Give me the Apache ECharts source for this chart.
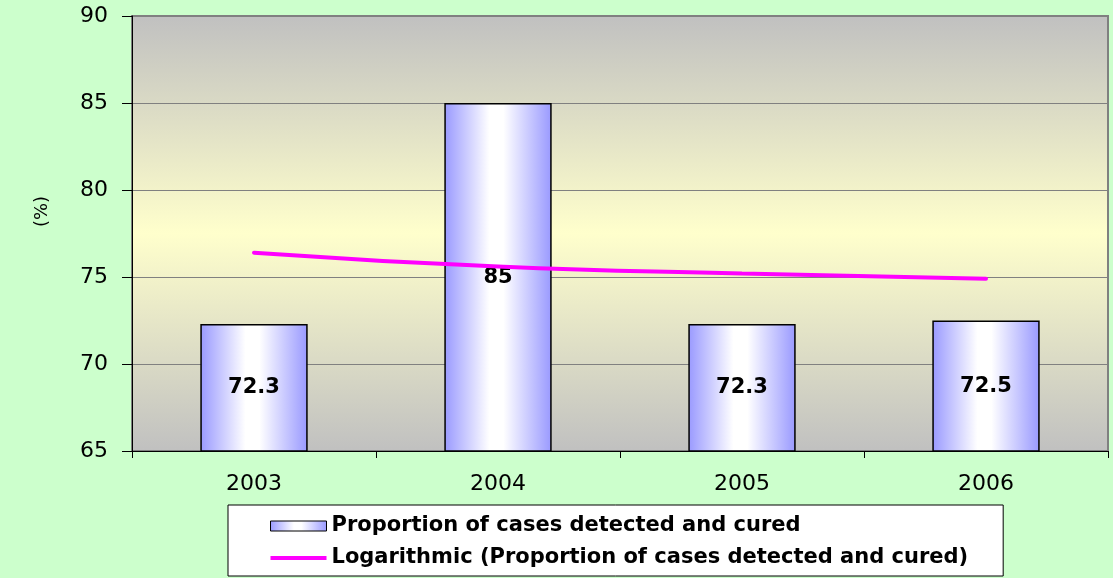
<!DOCTYPE html>
<html>
<head>
<meta charset="utf-8">
<script src="https://cdn.jsdelivr.net/npm/echarts@6/dist/echarts.min.js"></script>
<style>
html,body{margin:0;padding:0;background:#CCFFCC;}
#c{width:1113px;height:578px;}
</style>
</head>
<body>
<div id="c"></div>
<script>
const categories = ['2003', '2004', '2005', '2006'];
const proportion = [72.3, 85, 72.3, 72.5];
const logTrend = [76.4, 75.6, 75.2, 74.9];
const yTicks = {min: 65, max: 90, interval: 5};
const barName = 'Proportion of cases detected and cured';
const trendName = 'Logarithmic (Proportion of cases detected and cured)';

const FONT = 'DejaVu Sans, Liberation Sans, Arial';
const chart = echarts.init(document.getElementById('c'));
const barGrad = new echarts.graphic.LinearGradient(0, 0, 1, 0, [
  {offset: 0, color: '#9999FF'},
  {offset: 0.42, color: '#FFFFFF'},
  {offset: 0.55, color: '#FFFFFF'},
  {offset: 1, color: '#9999FF'}
]);
chart.setOption({
  backgroundColor: '#CCFFCC',
  animation: false,
  grid: {
    left: 132, right: 5, top: 16, bottom: 127,
    show: true,
    borderColor: '#808080', borderWidth: 2,
    backgroundColor: new echarts.graphic.LinearGradient(0, 0, 0, 1, [
      {offset: 0, color: '#C0C0C0'},
      {offset: 0.5, color: '#FFFFCC'},
      {offset: 1, color: '#C0C0C0'}
    ])
  },
  legend: {
    orient: 'vertical',
    left: 228, top: 505,
    backgroundColor: '#FFFFFF',
    borderColor: '#000000', borderWidth: 1,
    padding: [10, 35, 7, 42],
    itemWidth: 56, itemHeight: 10, itemGap: 10,
    textStyle: {fontFamily: FONT, fontWeight: 'bold', fontSize: 21, color: '#000', lineHeight: 22},
    data: [
      {name: barName, icon: 'rect', itemStyle: {color: barGrad, borderColor: '#000', borderWidth: 1}},
      {name: trendName, icon: 'path://M0,0L0.01,0ZM0,3L56,3L56,7L0,7ZM0,10L0.01,10Z', itemStyle: {color: '#FF00FF'}}
    ]
  },
  xAxis: {
    type: 'category',
    data: categories,
    boundaryGap: true,
    axisLine: {lineStyle: {color: '#000', width: 1}},
    axisTick: {show: true, length: 7, lineStyle: {color: '#000'}},
    axisLabel: {fontFamily: FONT, fontSize: 22, color: '#000', margin: 22}
  },
  yAxis: {
    type: 'value',
    min: yTicks.min, max: yTicks.max, interval: yTicks.interval,
    name: '(%)',
    nameLocation: 'middle',
    nameRotate: 90,
    nameGap: 81,
    nameTextStyle: {fontFamily: FONT, fontSize: 18, color: '#000', padding: [0, 0, 0, 44]},
    axisLine: {show: true, lineStyle: {color: '#000', width: 1}},
    axisTick: {show: true, length: 10, lineStyle: {color: '#000'}},
    axisLabel: {fontFamily: FONT, fontSize: 22, color: '#000', margin: 24},
    splitLine: {show: true, lineStyle: {color: '#808080', width: 1}}
  },
  series: [
    {
      name: barName,
      type: 'bar',
      data: proportion,
      barWidth: '44%',
      itemStyle: {color: barGrad, borderColor: '#000', borderWidth: 1.5},
      label: {show: true, position: 'inside', fontFamily: FONT, fontWeight: 'bold', fontSize: 21, color: '#000'},
      z: 2
    },
    {
      name: trendName,
      type: 'line',
      data: logTrend,
      smooth: true,
      symbol: 'none',
      lineStyle: {color: '#FF00FF', width: 4, cap: 'round'},
      itemStyle: {color: '#FF00FF'},
      z: 3
    }
  ]
});
</script>
</body>
</html>
